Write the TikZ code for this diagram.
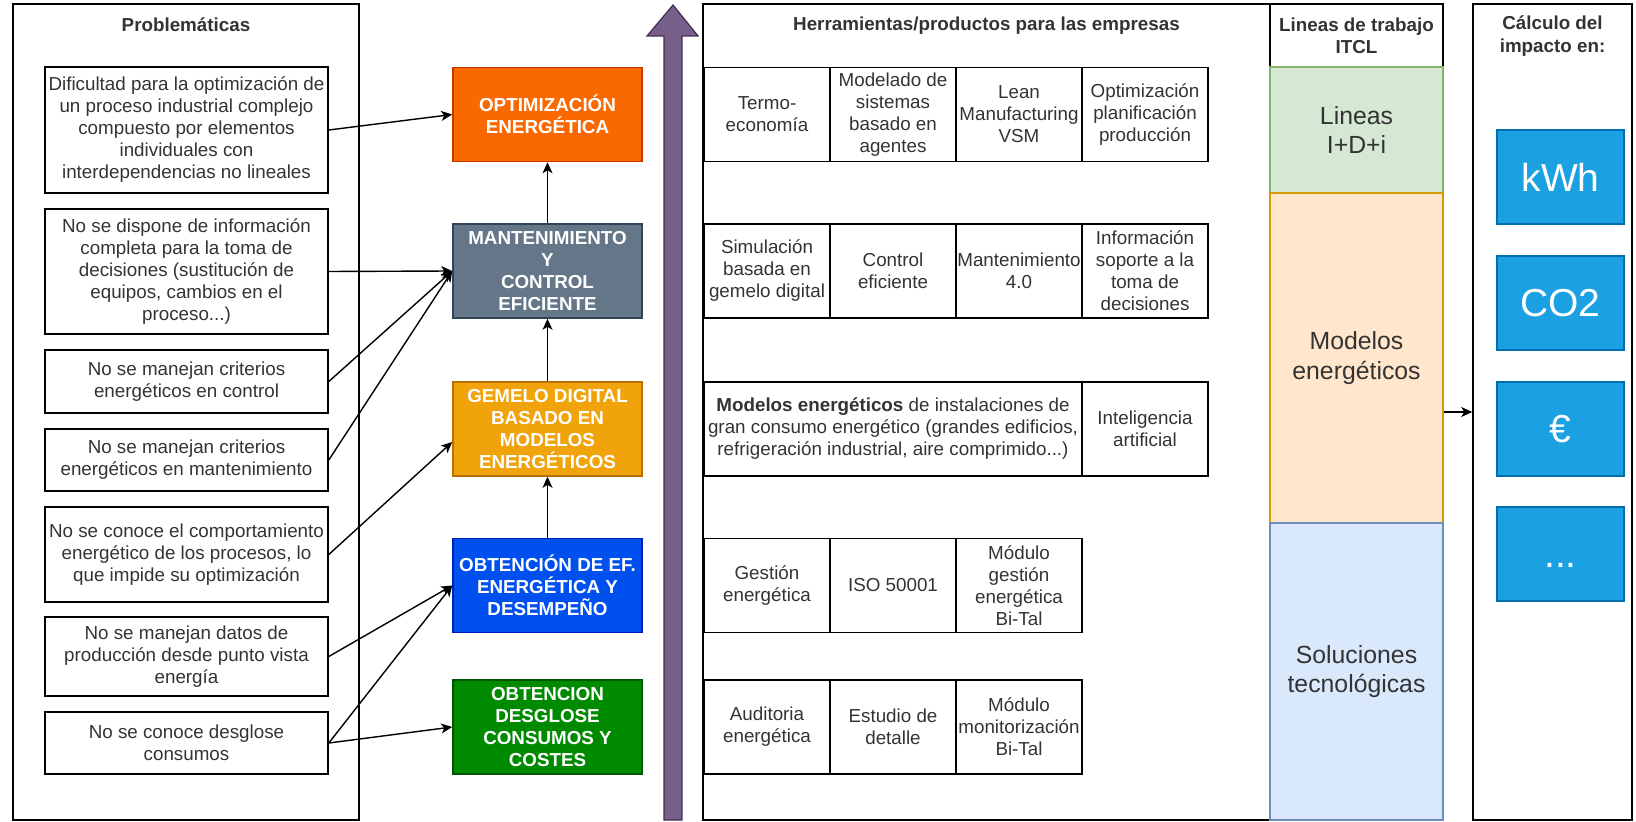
\documentclass[tikz,border=0pt]{standalone}
\usepackage{fontspec}
\setmainfont{Liberation Sans}
\usetikzlibrary{arrows.meta}
\definecolor{txt}{RGB}{51,51,51}
\definecolor{optfill}{HTML}{FA6800}\definecolor{optline}{HTML}{C73500}
\definecolor{manfill}{HTML}{647687}\definecolor{manline}{HTML}{314354}
\definecolor{gemfill}{HTML}{F0A30A}\definecolor{gemline}{HTML}{BD7000}
\definecolor{obtfill}{HTML}{0050EF}\definecolor{obtline}{HTML}{001DBC}
\definecolor{desfill}{HTML}{008A00}\definecolor{desline}{HTML}{005700}
\definecolor{arrfill}{HTML}{76608A}\definecolor{arrline}{HTML}{432D57}
\definecolor{idifill}{HTML}{D5E8D4}\definecolor{idiline}{HTML}{82B366}
\definecolor{modfill}{HTML}{FFE6CC}\definecolor{modline}{HTML}{D79B00}
\definecolor{solfill}{HTML}{DAE8FC}\definecolor{solline}{HTML}{6C8EBF}
\definecolor{impfill}{HTML}{1BA1E2}\definecolor{impline}{HTML}{006EAF}
\begin{document}
\begin{tikzpicture}[x=0.5pt, y=-0.5pt, line width=0.8pt,
  every node/.style={font=\fontsize{9.4}{11}\selectfont, text=txt, align=center, inner sep=0pt},
  frame/.style={draw, minimum width=#1, minimum height=408pt},
  title/.style={font=\fontsize{9.4}{11.2}\selectfont\bfseries},
  prob/.style={draw, minimum width=141.5pt},
  blk/.style={draw=#1line, fill=#1fill, text=white, minimum width=94.5pt, minimum height=47pt,
    font=\fontsize{9.4}{11}\selectfont\bfseries},
  cell/.style={draw, minimum width=63pt, minimum height=47pt},
  lin/.style={draw=#1line, fill=#1fill, minimum width=86.5pt, font=\fontsize{12.4}{14.7}\selectfont},
  imp/.style={draw=impline, fill=impfill, text=white, minimum width=63.5pt, minimum height=47pt,
    font=\fontsize{19.5}{22}\selectfont},
  link/.style={-{Stealth[length=5.5pt, width=5pt, inset=1.5pt]}, line width=0.7pt}]
\useasboundingbox (0,0) rectangle (1636,822);
% Problematicas
\node[frame=173pt] (F_prob) at (186,412) {};
\node[title] (T_prob) at (186,25) {Problemáticas};
\node[prob, minimum height=63pt] (P_1) at (186.5,130) {Dificultad para la optimización de\\un proceso industrial complejo\\compuesto por elementos\\individuales con\\interdependencias no lineales};
\node[prob, minimum height=62.5pt] (P_2) at (186.5,271.5) {No se dispone de información\\completa para la toma de\\decisiones (sustitución de\\equipos, cambios en el\\proceso...)};
\node[prob, minimum height=31.5pt] (P_3) at (186.5,381.5) {No se manejan criterios\\energéticos en control};
\node[prob, minimum height=31pt] (P_4) at (186.5,460) {No se manejan criterios\\energéticos en mantenimiento};
\node[prob, minimum height=47.5pt] (P_5) at (186.5,554.5) {No se conoce el comportamiento\\energético de los procesos, lo\\que impide su optimización};
\node[prob, minimum height=39.5pt] (P_6) at (186.5,656.5) {No se manejan datos de\\producción desde punto vista\\energía};
\node[prob, minimum height=31pt] (P_7) at (186.5,743) {No se conoce desglose\\consumos};
% bloques
\node[blk=opt] (B_opt) at (547.5,114.5) {OPTIMIZACIÓN\\ENERGÉTICA};
\node[blk=man] (B_man) at (547.5,271) {MANTENIMIENTO\\Y\\CONTROL\\EFICIENTE};
\node[blk=gem] (B_gem) at (547.5,429) {GEMELO DIGITAL\\BASADO EN\\MODELOS\\ENERGÉTICOS};
\node[blk=obt] (B_obt) at (547.5,585.5) {OBTENCIÓN DE EF.\\ENERGÉTICA  Y\\DESEMPEÑO};
\node[blk=des] (B_des) at (547.5,727) {OBTENCION\\DESGLOSE\\CONSUMOS Y\\COSTES};
\draw[link] (B_man) -- (B_opt);
\draw[link] (B_gem) -- (B_man);
\draw[link] (B_obt) -- (B_gem);
\draw[link] (P_1.east) -- (B_opt.west);
\draw[link] (P_2.east) -- (B_man.west);
\draw[link] (P_3.east) -- (B_man.west);
\draw[link] (P_4.east) -- (B_man.west);
\draw[link] (P_5.east) -- ([yshift=-6.5pt]B_gem.west);
\draw[link] (P_6.east) -- (B_obt.west);
\draw[link] (P_7.east) -- (B_obt.west);
\draw[link] (P_7.east) -- (B_des.west);
% flecha vertical
\draw[draw=arrline, fill=arrfill, line width=0.6pt] (664,820) -- (664,36) -- (647,36) -- (673,5)
  -- (698,36) -- (682,36) -- (682,820) -- cycle;
% Herramientas
\node[frame=283.5pt] (F_herr) at (986.5,412) {};
\node[title] (T_herr) at (986.5,26) {Herramientas/productos para las empresas};
\node[cell] (H_1_1) at (767,114.5) {Termo-\\economía};
\node[cell] (H_1_2) at (893,114.5) {Modelado de\\sistemas\\basado en\\agentes};
\node[cell] (H_1_3) at (1019,114.5) {Lean\\Manufacturing\\VSM};
\node[cell] (H_1_4) at (1145,114.5) {Optimización\\planificación\\producción};
\node[cell] (H_2_1) at (767,271) {Simulación\\basada en\\gemelo digital};
\node[cell] (H_2_2) at (893,271) {Control\\eficiente};
\node[cell] (H_2_3) at (1019,271) {Mantenimiento\\4.0};
\node[cell] (H_2_4) at (1145,271) {Información\\soporte a la\\toma de\\decisiones};
\node[cell, minimum width=189pt] (H_3_1) at (893,429) {\textbf{Modelos energéticos} de instalaciones de\\gran consumo energético (grandes edificios,\\refrigeración industrial, aire comprimido...)};
\node[cell] (H_3_4) at (1145,429) {Inteligencia\\artificial};
\node[cell] (H_4_1) at (767,585.5) {Gestión\\energética};
\node[cell] (H_4_2) at (893,585.5) {ISO 50001};
\node[cell] (H_4_3) at (1019,585.5) {Módulo\\gestión\\energética\\Bi-Tal};
\node[cell] (H_5_1) at (767,727) {Auditoria\\energética};
\node[cell] (H_5_2) at (893,727) {Estudio de\\detalle};
\node[cell] (H_5_3) at (1019,727) {Módulo\\monitorización\\Bi-Tal};
% Lineas de trabajo
\node[minimum width=86.5pt, minimum height=408pt] (L_all) at (1356.5,412) {};
\node[draw, minimum width=86.5pt, minimum height=31.5pt, title] (L_head) at (1356.5,35.5) {Lineas de trabajo\\ITCL};
\node[lin=idi, minimum height=63pt] (L_idi) at (1356.5,130) {Lineas\\I+D+i};
\node[lin=mod, minimum height=165pt] (L_mod) at (1356.5,358) {Modelos\\energéticos};
\node[lin=sol, minimum height=148.5pt] (L_sol) at (1356.5,671.5) {Soluciones\\tecnológicas};
% Calculo del impacto
\node[frame=79.5pt] (F_calc) at (1552.5,412) {};
\node[title] (T_calc) at (1552.5,36) {Cálculo del\\impacto en:};
\node[imp] (I_kwh) at (1560.5,177) {kWh};
\node[imp] (I_co2) at (1560.5,303) {CO2};
\node[imp] (I_eur) at (1560.5,429) {€};
\node[imp, text height=15pt, text depth=1.5pt] (I_etc) at (1560.5,554) {...};
\draw[link] (L_all.east) -- (F_calc.west);
\end{tikzpicture}
\end{document}
